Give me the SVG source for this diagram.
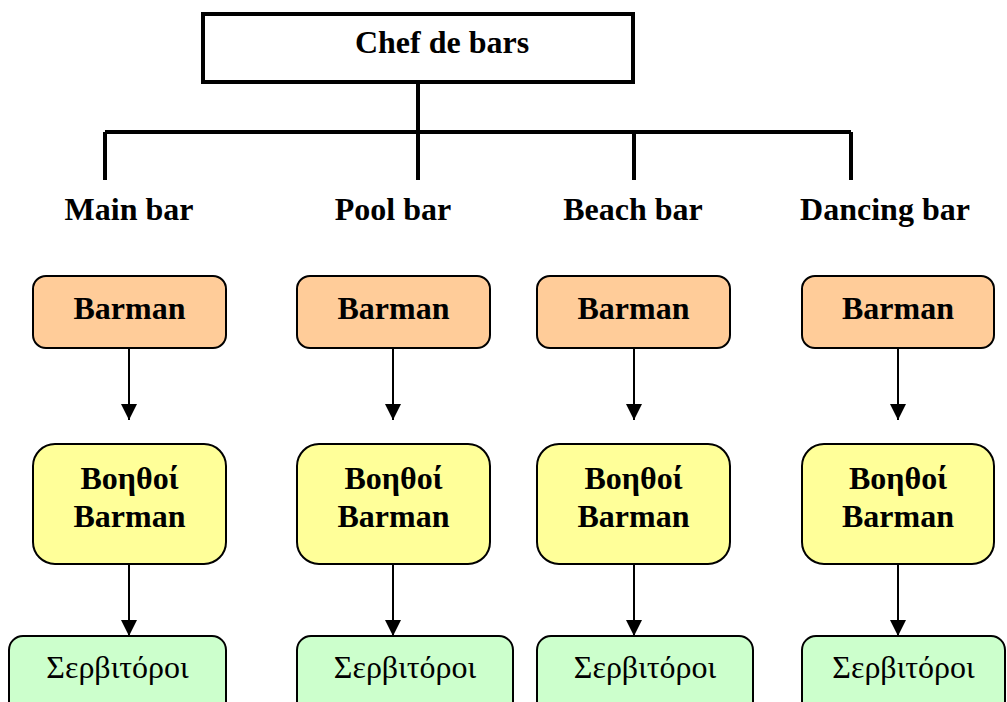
<svg xmlns="http://www.w3.org/2000/svg" width="1007" height="702" viewBox="0 0 1007 702">
<style>
text{font-family:'Liberation Serif','Times New Roman',Tinos,'DejaVu Serif',serif;font-size:32px;fill:#000;text-anchor:middle}
.b{font-weight:bold}
.tree{stroke:#000;stroke-width:4;fill:none}
.arr{stroke:#000;stroke-width:2;fill:none;marker-end:url(#ah)}
.bar{fill:#FFCC99;stroke:#000;stroke-width:2}
.help{fill:#FFFF99;stroke:#000;stroke-width:2}
.wait{fill:#CCFFCC;stroke:#000;stroke-width:2}
</style>
<defs>
<marker id="ah" viewBox="0 0 16 16" refX="16" refY="8" markerWidth="16" markerHeight="16" markerUnits="userSpaceOnUse" orient="auto">
<path d="M0,0 L16,8 L0,16 Z" fill="#000"/>
</marker>
</defs>
<rect width="1007" height="702" fill="#fff"/>
<g id="connectors">
<path class="tree" d="M418,82 V132 M105,132 H851 M105,132 V180 M418,132 V180 M634,132 V180 M851,132 V180"/>
<path class="arr" d="M129,348 V420"/>
<path class="arr" d="M393,348 V420"/>
<path class="arr" d="M634,348 V420"/>
<path class="arr" d="M898,348 V420"/>
<path class="arr" d="M129,564 V636"/>
<path class="arr" d="M393,564 V636"/>
<path class="arr" d="M634,564 V636"/>
<path class="arr" d="M898,564 V636"/>
</g>
<g id="chef">
<rect x="203" y="14" width="430" height="68" fill="#fff" stroke="#000" stroke-width="4"/>
<text class="b" x="442" y="53" font-family="Liberation Serif, serif">Chef de bars</text>
</g>
<g id="labels" font-family="Liberation Serif, serif">
<text class="b" x="129" y="220">Main bar</text>
<text class="b" x="393" y="220">Pool bar</text>
<text class="b" x="633" y="220">Beach bar</text>
<text class="b" x="885" y="220">Dancing bar</text>
</g>
<g id="barman1"><rect class="bar" x="33" y="276" width="193" height="72" rx="13"/><text class="b" x="129.5" y="319">Barman</text></g>
<g id="barman2"><rect class="bar" x="297" y="276" width="193" height="72" rx="13"/><text class="b" x="393.5" y="319">Barman</text></g>
<g id="barman3"><rect class="bar" x="537" y="276" width="193" height="72" rx="13"/><text class="b" x="633.5" y="319">Barman</text></g>
<g id="barman4"><rect class="bar" x="802" y="276" width="192" height="72" rx="13"/><text class="b" x="898" y="319">Barman</text></g>
<g id="helpers1"><rect class="help" x="33" y="444" width="193" height="120" rx="22"/><text class="b" x="129.5" y="489">Βοηθοί</text><text class="b" x="129.5" y="527">Barman</text></g>
<g id="helpers2"><rect class="help" x="297" y="444" width="193" height="120" rx="22"/><text class="b" x="393.5" y="489">Βοηθοί</text><text class="b" x="393.5" y="527">Barman</text></g>
<g id="helpers3"><rect class="help" x="537" y="444" width="193" height="120" rx="22"/><text class="b" x="633.5" y="489">Βοηθοί</text><text class="b" x="633.5" y="527">Barman</text></g>
<g id="helpers4"><rect class="help" x="802" y="444" width="192" height="120" rx="22"/><text class="b" x="898" y="489">Βοηθοί</text><text class="b" x="898" y="527">Barman</text></g>
<g id="waiters1"><rect class="wait" x="9" y="636" width="217" height="80" rx="14"/><text x="117.5" y="678">Σερβιτόροι</text></g>
<g id="waiters2"><rect class="wait" x="297" y="636" width="216" height="80" rx="14"/><text x="405" y="678">Σερβιτόροι</text></g>
<g id="waiters3"><rect class="wait" x="537" y="636" width="216" height="80" rx="14"/><text x="645" y="678">Σερβιτόροι</text></g>
<g id="waiters4"><rect class="wait" x="802" y="636" width="203" height="80" rx="14"/><text x="903.5" y="678">Σερβιτόροι</text></g>
</svg>
